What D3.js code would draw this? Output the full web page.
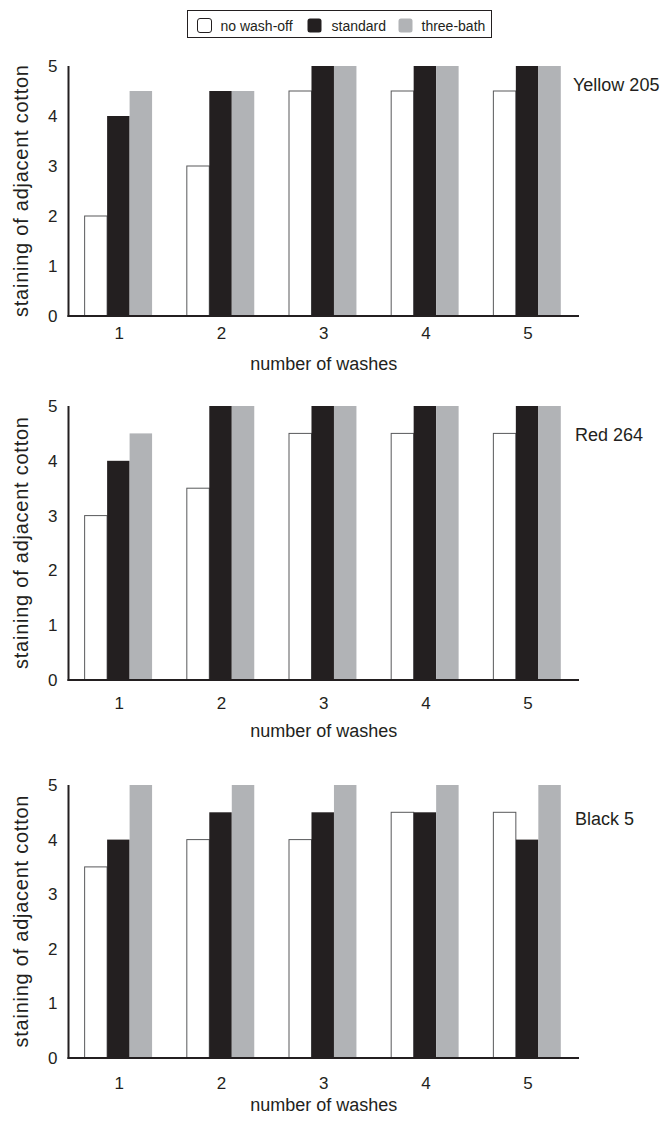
<!DOCTYPE html>
<html>
<head>
<meta charset="utf-8">
<script src="https://cdn.jsdelivr.net/npm/d3@7"></script>
<style>
    body { margin: 0; background: #fff; }
    svg { display: block; font-family: "Liberation Sans", Arial, sans-serif; }
</style>
</head>
<body>
<div id="chart"></div>
<script>
// DATA
const washes = ["1", "2", "3", "4", "5"];
const seriesNames = ["no wash-off", "standard", "three-bath"];
const yTicks = [0, 1, 2, 3, 4, 5];
const dyeNames = ["Yellow 205", "Red 264", "Black 5"];

const yellowNoWashOff = [2, 3, 4.5, 4.5, 4.5];
const yellowStandard = [4, 4.5, 5, 5, 5];
const yellowThreeBath = [4.5, 4.5, 5, 5, 5];

const redNoWashOff = [3, 3.5, 4.5, 4.5, 4.5];
const redStandard = [4, 5, 5, 5, 5];
const redThreeBath = [4.5, 5, 5, 5, 5];

const blackNoWashOff = [3.5, 4, 4, 4.5, 4.5];
const blackStandard = [4, 4.5, 4.5, 4.5, 4];
const blackThreeBath = [5, 5, 5, 5, 5];

const dyeValues = [
    [yellowNoWashOff, yellowStandard, yellowThreeBath],
    [redNoWashOff, redStandard, redThreeBath],
    [blackNoWashOff, blackStandard, blackThreeBath]
];

// 레이아웃
const width = 668;
const height = 1122;
const xLeft = 68.5, xRight = 579;
const panels = [
    { top: 66, zero: 316, tickOff: 17, titleOff: 54, nameY: 91, nameX: 573 },
    { top: 406, zero: 680, tickOff: 23, titleOff: 57, nameY: 441, nameX: 575 },
    { top: 785, zero: 1058, tickOff: 25, titleOff: 53, nameY: 825, nameX: 575 }
];
const fills = { "no wash-off": "#ffffff", "standard": "#231f20", "three-bath": "#b1b3b6" };
const axisColor = "#231f20";

const svg = d3.select("#chart")
    .append("svg")
    .attr("width", width)
    .attr("height", height);

const xScale = d3.scaleBand()
    .domain(washes)
    .range([xLeft, xRight])
    .paddingInner(0.34)
    .paddingOuter(0.168)
    .align(0.47);

const xSub = d3.scaleBand()
    .domain(seriesNames)
    .range([0, xScale.bandwidth()]);

panels.forEach((p, i) => drawPanel(p, i));
drawLegend();

function drawPanel(p, i) {
    const yScale = d3.scaleLinear()
        .domain([0, 5])
        .range([p.zero, p.top]);

    const rows = washes.map((w, k) => ({
        wash: w,
        values: seriesNames.map((s, j) => ({ key: s, value: dyeValues[i][j][k] }))
    }));

    const g = svg.append("g");

    // bars
    const groups = g.selectAll("g.group")
        .data(rows)
        .enter()
        .append("g")
        .attr("class", "group")
        .attr("transform", d => `translate(${xScale(d.wash)},0)`);

    groups.selectAll("rect")
        .data(d => d.values)
        .enter()
        .append("rect")
        .attr("x", d => xSub(d.key))
        .attr("y", d => yScale(d.value))
        .attr("width", xSub.bandwidth())
        .attr("height", d => yScale(0) - yScale(d.value))
        .attr("fill", d => fills[d.key])
        .attr("stroke", d => d.key === "no wash-off" ? "#58595b" : "none")
        .attr("stroke-width", 1);

    // y axis (labels only, no ticks)
    const yAxis = d3.axisLeft(yScale)
        .tickValues(yTicks)
        .tickSize(0)
        .tickPadding(11)
        .tickFormat(d3.format("d"));

    const yAxisGroup = g.append("g")
        .attr("transform", `translate(${xLeft},0)`)
        .call(yAxis);
    yAxisGroup.select(".domain").remove();
    yAxisGroup.selectAll("text")
        .style("font-size", "17px")
        .attr("fill", "#231f20")
        .attr("font-family", null);

    // x axis labels
    const xAxis = d3.axisBottom(xScale).tickSize(0).tickPadding(0);
    const xAxisGroup = g.append("g")
        .attr("transform", `translate(0,${p.zero + p.tickOff})`)
        .call(xAxis);
    xAxisGroup.select(".domain").remove();
    xAxisGroup.selectAll("text")
        .attr("dy", "0.35em")
        .attr("x", 1)
        .style("font-size", "17px")
        .attr("fill", "#231f20")
        .attr("font-family", null);

    // axis lines
    g.append("line")
        .attr("x1", xLeft).attr("x2", xLeft)
        .attr("y1", yScale(5)).attr("y2", yScale(0) + 1)
        .attr("stroke", axisColor).attr("stroke-width", 2);
    g.append("line")
        .attr("x1", xLeft - 1).attr("x2", xRight)
        .attr("y1", yScale(0)).attr("y2", yScale(0))
        .attr("stroke", axisColor).attr("stroke-width", 2);

    // titles
    g.append("text")
        .attr("x", (xLeft + xRight) / 2)
        .attr("y", p.zero + p.titleOff)
        .attr("text-anchor", "middle")
        .style("font-size", "18px")
        .attr("fill", "#231f20")
        .text("number of washes");

    g.append("text")
        .attr("transform", `translate(28,${(p.top + p.zero) / 2}) rotate(-90)`)
        .attr("text-anchor", "middle")
        .attr("textLength", 252)
        .attr("lengthAdjust", "spacing")
        .style("font-size", "20px")
        .attr("fill", "#231f20")
        .text("staining of adjacent cotton");

    g.append("text")
        .attr("x", p.nameX)
        .attr("y", p.nameY)
        .style("font-size", "18px")
        .attr("fill", "#231f20")
        .text(dyeNames[i]);
}

function drawLegend() {
    const lg = svg.append("g");
    lg.append("rect")
        .attr("x", 187.5).attr("y", 10.5)
        .attr("width", 304).attr("height", 27)
        .attr("fill", "#fff")
        .attr("stroke", "#231f20")
        .attr("stroke-width", 1);

    const swatchX = [197.5, 307.5, 398.5];
    const textX = [220.5, 331.5, 421.5];

    seriesNames.forEach((s, j) => {
        lg.append("rect")
            .attr("x", swatchX[j]).attr("y", 18.5)
            .attr("width", 14).attr("height", 14)
            .attr("rx", 2.5)
            .attr("fill", fills[s])
            .attr("stroke", s === "no wash-off" ? "#231f20" : "none")
            .attr("stroke-width", 1);
        lg.append("text")
            .attr("x", textX[j])
            .attr("y", 30.5)
            .style("font-size", "14px")
            .attr("fill", "#231f20")
            .text(s);
    });
}
</script>
</body>
</html>
